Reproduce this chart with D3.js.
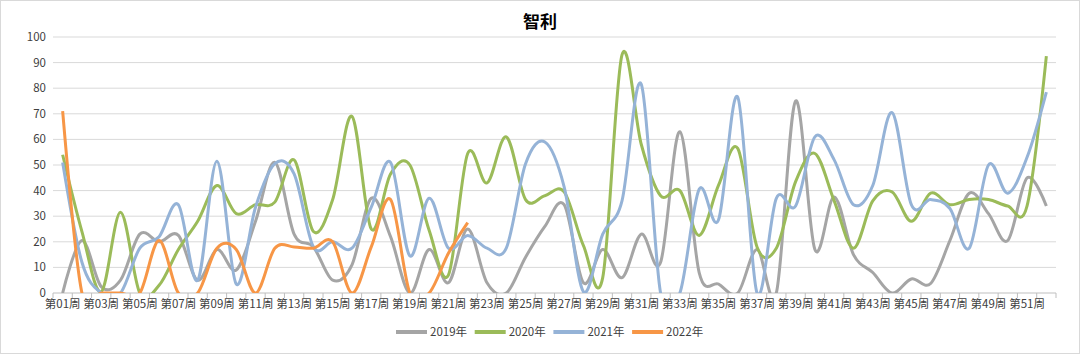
<html>

<head>
    <meta charset="utf-8">
    <style>
        body {
            margin: 0;
            background: #fff;
        }

        text {
            font-family: "Noto Sans CJK SC", "Noto Sans", sans-serif;
            fill: #404040;
        }

        .line {
            fill: none;
            stroke-width: 3;
        }
    </style>
</head>

<body>
    <svg id="container" height="354" width="1080"></svg>
</body>
<script src="https://cdn.jsdelivr.net/npm/d3@7"></script>
<script>
    // weeks 第01周 .. 第52周
    let weeks = d3.range(1, 53).map(i => "第" + String(i).padStart(2, "0") + "周")

    let seriesNames = ["2019年", "2020年", "2021年", "2022年"]
    let colors = ["#a5a5a5", "#9bbb59", "#95b3d7", "#f79646"]

    let v2019 = [0, 20.5, 2.5, 5, 23, 20, 22.5, 5, 17, 9, 28, 51, 23, 18, 5, 11,
        37, 22, 0, 17, 4, 25, 4, 0, 14, 26, 34.5, 4, 17, 6, 23, 12, 63, 8, 3.5, 0,
        17, 0, 75, 17, 37.5, 15, 8, 0, 5.5, 3.7, 20.5, 39, 31, 20.5, 45, 34]
    let v2020 = [54, 24, 0.5, 31.5, 0, 3, 17, 28, 42, 31, 34.5, 35.5, 52, 24, 36.5, 69,
        25, 46.5, 50, 24.5, 7, 54.5, 43, 61, 36.5, 38, 39.5, 18.5, 6, 93, 58, 38, 40, 22.5, 42, 56.5,
        18, 17.5, 43.5, 54.5, 36, 17.5, 36, 39.5, 28, 39, 34.5, 36.5, 36.5, 34, 34, 92.5]
    let v2021 = [51, 12, 0, 0, 17.5, 22, 34.5, 5, 51.5, 3.5, 33.5, 50.5, 46.5, 18, 20, 17.5,
        33.5, 51, 14.5, 37, 17.5, 22.5, 17.5, 17.5, 50.5, 59, 41.5, 0.5, 23, 36, 81.5, 0, 0, 40.5, 28.5, 76.5,
        0, 37, 34, 61, 52, 34.5, 42, 70.5, 34.5, 36.5, 33, 17.5, 50, 39, 53, 78.5]
    let v2022 = [71, 0, 0, 0, 0, 20.5, 0, 0, 17.5, 17, 0, 17.5, 18, 17.5, 20, 0,
        18, 36.5, 0, 0, 15.5, 27.5]

    let yTicks = d3.range(0, 101, 10)

    let allSeries = [v2019, v2020, v2021, v2022]

    let svg = d3.select("#container")
    let margin = { left: 53, right: 24, top: 37, bottom: 61 }
    let width = 1080, height = 354
    let plotW = width - margin.left - margin.right
    let plotH = height - margin.top - margin.bottom

    // outer border
    svg.append("rect")
        .attr("x", 0.5).attr("y", 0.5)
        .attr("width", width - 1).attr("height", height - 1)
        .attr("fill", "#fff").attr("stroke", "#d9d9d9")

    svg.append("text")
        .attr("x", 540).attr("y", 28)
        .attr("text-anchor", "middle")
        .style("font-size", "17px")
        .style("font-weight", "bold")
        .style("fill", "#000")
        .text("智利")

    let body = svg.append("g").attr("transform", `translate(${margin.left},${margin.top})`)

    let xBand = d3.scaleBand().domain(weeks).range([0, plotW])
    let x = d => xBand(d) + xBand.bandwidth() / 2
    let y = d3.scaleLinear().domain([0, 100]).range([plotH, 0])

    // grid
    body.selectAll(".grid").data(yTicks.slice(1))
        .enter().append("line")
        .attr("x1", 0).attr("x2", plotW)
        .attr("y1", d => y(d)).attr("y2", d => y(d))
        .attr("stroke", "#d9d9d9")

    // y labels
    body.selectAll(".ylab").data(yTicks)
        .enter().append("text")
        .attr("x", -7).attr("y", d => y(d))
        .attr("dy", "0.35em")
        .attr("text-anchor", "end")
        .style("font-size", "11.5px")
        .text(d => d)

    // x axis
    let xAxis = body.append("g").attr("transform", `translate(0,${plotH})`)
    xAxis.append("line").attr("x1", 0).attr("x2", plotW).attr("stroke", "#bfbfbf")
    xAxis.selectAll(".tk").data(d3.range(0, 53))
        .enter().append("line")
        .attr("x1", i => i * xBand.bandwidth()).attr("x2", i => i * xBand.bandwidth())
        .attr("y1", 0).attr("y2", 5)
        .attr("stroke", "#bfbfbf")
    xAxis.selectAll(".xlab").data(weeks.filter((d, i) => i % 2 == 0))
        .enter().append("text")
        .attr("x", d => x(d)).attr("y", 15)
        .attr("text-anchor", "middle")
        .style("font-size", "11.5px")
        .text(d => d)

    // clip to plot
    svg.append("clipPath").attr("id", "clip")
        .append("rect").attr("x", -2).attr("y", -5).attr("width", plotW + 4).attr("height", plotH + 5)

    let line = d3.line()
        .x((d, i) => x(weeks[i]))
        .y(d => y(d))
        .curve(d3.curveCatmullRom.alpha(0))

    body.append("g").attr("clip-path", "url(#clip)")
        .selectAll(".line").data(allSeries)
        .enter().append("path")
        .attr("class", "line")
        .attr("d", line)
        .attr("stroke", (d, i) => colors[i])

    // legend
    let legend = svg.selectAll(".legend").data(seriesNames)
        .enter().append("g")
        .attr("transform", (d, i) => `translate(${396 + i * 78.7},332)`)
    legend.append("line")
        .attr("x1", 0).attr("x2", 31)
        .attr("stroke", (d, i) => colors[i])
        .attr("stroke-width", 4)
    legend.append("text")
        .attr("x", 34).attr("dy", "0.35em")
        .style("font-size", "11.5px")
        .text(d => d)
</script>

</html>
